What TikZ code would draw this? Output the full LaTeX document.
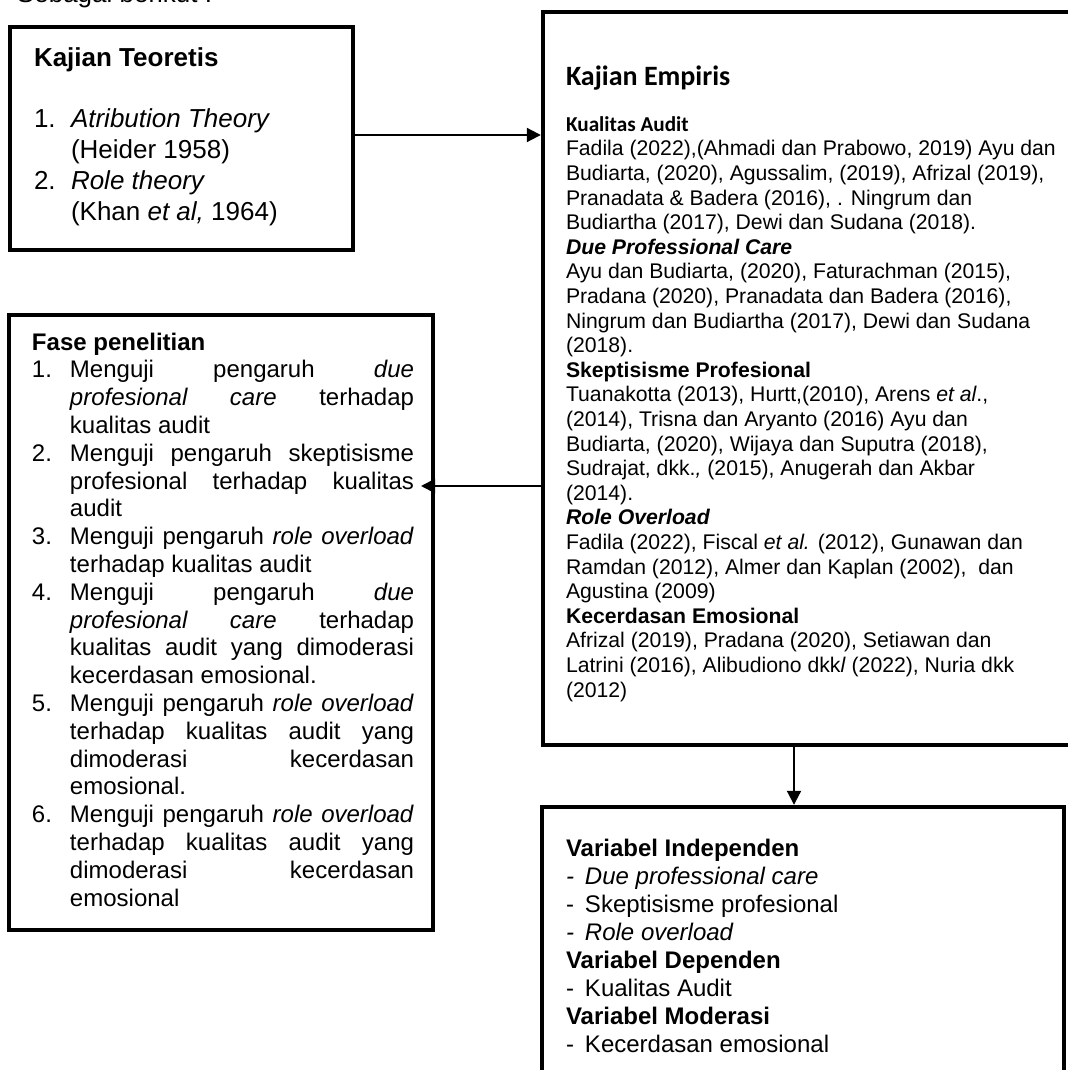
\documentclass[tikz,border=0pt]{standalone}
\usepackage{fontspec}
\setmainfont{Liberation Sans}
\newfontfamily\carlito{Carlito}
\usetikzlibrary{arrows.meta,positioning}

\newcommand\faseitem[2]{\par\hangindent=19pt\hangafter=1\noindent\hbox to 19pt{#1.\hfil}#2}
\newcommand\numbox[1]{\makebox[18.5pt][l]{#1}}
\newcommand\varbullet{\makebox[9.5pt][l]{-}}

\begin{document}
\begin{tikzpicture}[x=0.5pt,y=-0.5pt,
    frame/.style={draw,line width=2.2pt,inner sep=0pt,outer sep=0pt,anchor=north west},
    txt/.style={anchor=base west,inner sep=0pt,outer sep=0pt,align=left},
    arr/.style={line width=1pt,-{Triangle[length=7pt,width=7pt]}}]
    \useasboundingbox (0,0) rectangle (1067,1070);
    \node[txt,font={\fontsize{13}{15.5}\selectfont}] (intro) at (17,2.5) {Sebagai berikut :};
    % boxes
    \node[frame,minimum width=171.5pt,minimum height=111.5pt] (teori) at (10,27) {};
    \node[frame,minimum width=271pt,minimum height=366.5pt] (empiris) at (543,12) {};
    \node[frame,minimum width=212pt,minimum height=307.5pt] (fase) at (9,315) {};
    \node[frame,minimum width=261pt,minimum height=150pt] (variabel) at (542,807) {};
    % texts (multi-line nodes sit on their last baseline)
    \node[txt,font={\fontsize{13}{15.5}\selectfont}] (teoritxt) at ([shift={(24,193)}]teori.north west)
        {\textbf{Kajian Teoretis}\\[15pt]
         \numbox{1.}\emph{Atribution Theory}\\
         \hspace*{18.5pt}(Heider 1958)\\
         \numbox{2.}\emph{Role theory}\\
         \hspace*{18.5pt}(Khan \emph{et al,} 1964)};
    \node[txt,font={\carlito\bfseries\fontsize{14}{16}\selectfont}] (empirishead) at ([shift={(23,74)}]empiris.north west) {Kajian Empiris};
    \node[txt,font={\fontsize{10.6}{12.3}\selectfont}] (empiristxt) at ([shift={(23,685)}]empiris.north west)
        {{\carlito\bfseries Kualitas Audit}\\
         Fadila (2022),(Ahmadi dan Prabowo, 2019) Ayu dan\\
         Budiarta, (2020), Agussalim, (2019), Afrizal (2019),\\
         Pranadata \& Badera (2016), . Ningrum dan\\
         Budiartha (2017), Dewi dan Sudana (2018).\\
         {\bfseries\itshape Due Professional Care}\\
         Ayu dan Budiarta, (2020), Faturachman (2015),\\
         Pradana (2020), Pranadata dan Badera (2016),\\
         Ningrum dan Budiartha (2017), Dewi dan Sudana\\
         (2018).\\
         {\bfseries Skeptisisme Profesional}\\
         Tuanakotta (2013), Hurtt,(2010), Arens \emph{et al}.,\\
         (2014), Trisna dan Aryanto (2016) Ayu dan\\
         Budiarta, (2020), Wijaya dan Suputra (2018),\\
         Sudrajat, dkk.\emph{,} (2015), Anugerah dan Akbar\\
         (2014).\\
         {\bfseries\itshape Role Overload}\\
         Fadila (2022), Fiscal \emph{et al.} (2012), Gunawan dan\\
         Ramdan (2012), Almer dan Kaplan (2002),\ \ dan\\
         Agustina (2009)\\
         {\bfseries Kecerdasan Emosional}\\
         Afrizal (2019), Pradana (2020), Setiawan dan\\
         Latrini (2016), Alibudiono dkk\emph{l} (2022), Nuria dkk\\
         (2012)};
    \node[anchor=base west,inner sep=0pt,outer sep=0pt,text width=191pt,align=justify,
          font={\fontsize{12}{13.9}\selectfont}] (fasetxt) at ([shift={(23,35)}]fase.north west)
        {\tolerance=10000\hyphenpenalty=10000\parindent=0pt
         \textbf{Fase penelitian}
         \faseitem{1}{Menguji pengaruh \emph{due}\linebreak \emph{profesional care} terhadap\linebreak kualitas audit}
         \faseitem{2}{Menguji pengaruh skeptisisme\linebreak profesional terhadap kualitas\linebreak audit}
         \faseitem{3}{Menguji pengaruh \emph{role overload}\linebreak terhadap kualitas audit}
         \faseitem{4}{Menguji pengaruh \emph{due}\linebreak \emph{profesional care} terhadap\linebreak kualitas audit yang dimoderasi\linebreak kecerdasan emosional.}
         \faseitem{5}{Menguji pengaruh \emph{role overload}\linebreak terhadap kualitas audit yang\linebreak dimoderasi kecerdasan\linebreak emosional.}
         \faseitem{6}{Menguji pengaruh \emph{role overload}\linebreak terhadap kualitas audit yang\linebreak dimoderasi kecerdasan\linebreak emosional}\par};
    \node[txt,font={\fontsize{12}{14}\selectfont}] (variabeltxt) at ([shift={(24,245)}]variabel.north west)
        {\textbf{Variabel Independen}\\
         \emph{\varbullet Due professional care}\\
         \varbullet Skeptisisme profesional\\
         \emph{\varbullet Role overload}\\
         \textbf{Variabel Dependen}\\
         \varbullet Kualitas Audit\\
         \textbf{Variabel Moderasi}\\
         \varbullet Kecerdasan emosional};
    % arrows
    \coordinate (a1) at ([yshift=1.75pt]teori.east);
    \draw[arr,shorten >=1.1pt] (a1) -- (a1 -| empiris.west);
    \coordinate (a2) at ([yshift=-53.75pt]empiris.west);
    \draw[arr,shorten >=-6pt] (a2) -- (a2 -| fase.east);
    \coordinate (a3) at ([xshift=-10pt]empiris.south);
    \draw[arr,shorten >=1.1pt] (a3) -- (a3 |- variabel.north);
\end{tikzpicture}
\end{document}
